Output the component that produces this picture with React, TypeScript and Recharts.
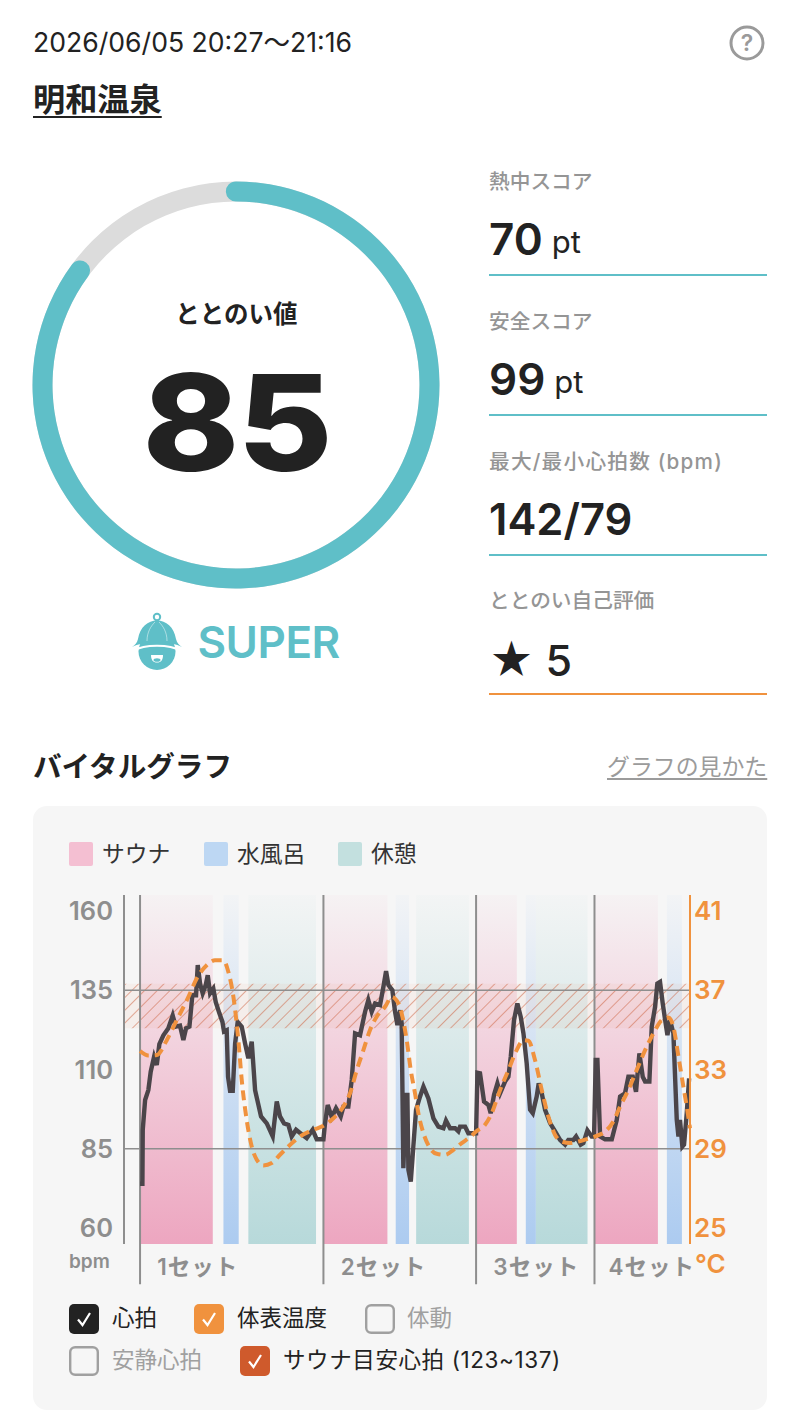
import { ComposedChart, Line, XAxis, YAxis, ReferenceArea, ReferenceLine, PieChart, Pie, Cell } from 'recharts'

const FONT = 'Inter, "Noto Sans CJK JP", sans-serif'
const TEAL = '#5fbfc8'
const ORANGE = '#f0923e'
const GRAY = '#8e8e8e'

// heart rate (minutes since 20:27 / bpm)
const hrMinutes = [
  0, 0.21, 0.24, 0.45, 0.74, 0.95, 1.25, 1.49, 1.72, 2.08, 2.52, 2.91, 3.18, 3.56, 3.86, 4.1, 4.4, 4.66, 4.99, 5.14,
  5.35, 5.58, 5.85, 6.03, 6.24, 6.53, 6.74, 7.07, 7.34, 7.48, 7.72, 7.84, 8.02, 8.26, 8.47, 8.7, 9.06, 9.36, 9.65, 9.95,
  10.25, 10.78, 11.29, 11.82, 12.18, 12.47, 12.83, 13.22, 13.51, 13.9, 14.26, 14.85, 15.38, 15.74, 16.34,
  16.48, 16.72, 17.08, 17.46, 17.88, 18.12, 18.56, 18.86, 19.16, 19.6, 20.05, 20.34, 20.64, 20.94, 21.38, 21.68, 21.92,
  22.13, 22.48, 22.72, 22.93, 23.17, 23.31, 23.46, 23.7, 23.82, 23.91, 24.12, 24.35, 24.59, 24.95, 25.25, 25.69, 26.14,
  26.58, 27.03, 27.26, 27.62, 28.07, 28.36, 28.51, 28.96, 29.25, 29.85,
  29.94, 30.06, 30.29, 30.65, 31.04, 31.24, 31.54, 31.84, 32.08, 32.52, 32.82, 33.03, 33.32, 33.62, 33.92, 34.16, 34.45,
  34.75, 34.99, 35.34, 35.52, 35.79, 36.09, 36.53, 36.98, 37.42, 37.87, 38.16, 38.61, 38.85, 39.26, 39.5, 39.86, 40.24,
  40.45, 40.6, 40.75, 40.99, 41.43, 42.03, 42.47, 42.77, 43.21, 43.51, 43.9, 44.19, 44.49, 44.79, 45, 45.38, 45.59, 45.89,
  46.09, 46.33, 46.57, 46.81, 46.99, 47.22, 47.52, 47.82, 47.97, 48.11, 48.32, 48.47, 48.71, 48.92,
]
const hrBpm = [
  74, 74, 91, 100.4, 103.5, 109.3, 114, 111.4, 118, 120.8, 123, 127, 123.5, 123.8, 119.3, 123, 123.5, 133.4, 133.4, 142.9,
  137, 134, 136.6, 139.7, 134, 135.5, 131.3, 127.7, 125, 122, 122.4, 107.7, 103.3, 103.3, 118.2, 125, 123.5, 118.2, 113.5, 118.8,
  103.5, 95.2, 93, 88.9, 99.9, 95.2, 93, 92.5, 88.9, 91, 90, 88.4, 91, 88, 88,
  93, 98.8, 95, 97.8, 95.2, 98.3, 98.3, 106.7, 121.4, 120.8, 128.2, 131.9, 128.2, 130.8, 130.3, 136, 141,
  136.6, 135, 128.2, 124, 128.7, 124.5, 78.9, 102, 102, 78.4, 74.7, 85.7, 97.3, 101.5, 104.6, 100.9, 94.6,
  92, 91.5, 93.9, 91.5, 91.5, 90.5, 92, 92, 89.9, 89.9,
  89.9, 109, 108.8, 99.9, 98.8, 96.2, 102, 105.6, 102.5, 106.2, 107.7, 114, 125.6, 130.8, 126.6, 121.4, 111.9,
  97.3, 96.2, 101.5, 105.6, 102.5, 97.3, 93.1, 90.5, 87.8, 86.3, 87.8, 87.8, 88.9, 86.3, 86.8, 90.8, 88.9,
  88.9, 113, 113, 88.9, 88, 88, 94.1, 101.5, 102.5, 107.7, 107.7, 103, 115.1, 107.7, 106.2, 106.2, 123.5, 129.8,
  137.1, 137.6, 130.8, 125, 120.8, 125.6, 121.4, 94.1, 88.9, 94.1, 85.7, 86.3, 96.2, 107.2,
]

// skin temperature (minutes / degrees)
const tempMinutes = [
  0, 0.74, 1.49, 2.38, 3.27, 4.31, 5.05, 5.94, 6.68, 7.42, 7.87, 8.32, 8.76, 9.06, 9.5, 9.95, 10.4, 10.99, 11.73, 12.47,
  13.37, 14.26, 15.44, 16.34, 17.23, 18.12, 18.71, 19.31, 19.9, 20.49, 21.08, 21.83, 22.42, 23.02, 23.31, 23.76, 24.12,
  24.5, 24.8, 25.25, 25.84, 26.43, 27.18, 27.92, 28.66, 29.4, 29.94, 30.74, 31.33, 32.08, 32.82, 33.56, 34.16, 34.6, 35.19,
  35.79, 36.38, 36.98, 37.57, 38.31, 39.06, 39.8, 40.69, 41.43, 42.17, 42.77, 43.51, 44.25, 45, 45.74, 46.48, 47.07, 47.52,
  47.97, 48.41, 48.71, 49,
]
const tempCelsius = [
  33.93, 33.7, 33.73, 34.48, 35.49, 36.66, 37.59, 38.26, 38.51, 38.51, 37.92, 36.66, 34.48, 32.47, 30.46, 29.12, 28.45, 28.16, 28.28, 28.7,
  29.2, 29.62, 29.96, 30.16, 30.54, 31.13, 31.8, 32.97, 33.98, 34.99, 35.66, 36.16, 36.66, 36.33, 35.83, 34.48, 32.97,
  31.8, 30.79, 29.79, 29.03, 28.75, 28.7, 28.95, 29.29, 29.59, 29.87, 30.21, 30.79, 31.97, 32.97, 33.98, 34.48, 34.45, 33.48,
  31.97, 30.63, 29.7, 29.37, 29.29, 29.37, 29.49, 29.65, 29.87, 30.38, 31.13, 31.97, 32.97, 33.98, 34.82, 35.49, 35.62, 35.15,
  33.65, 32.14, 31.13, 30.04,
]

const hrData = hrMinutes.map((t, i) => ({ t, bpm: hrBpm[i] }))
const tempData = tempMinutes.map((t, i) => ({ t, temp: tempCelsius[i] }))

// phases: [start, end] in minutes
const saunaPhases = [[0, 6.48], [16.34, 22.04], [29.94, 33.57], [40.49, 46.14]]
const waterPhases = [[7.43, 8.79], [22.78, 23.97], [34.37, 35.27], [46.94, 48.28]]
const restPhases = [[9.65, 15.68], [24.6, 29.3], [35.27, 39.87]]

const setStarts = [0, 16.34, 29.94, 40.49]
const setLabelAt = [5.14, 21.7, 35.3, 45.6]
const setLabels = ['1セット', '2セット', '3セット', '4セット']

const bpmTicks = [60, 85, 110, 135, 160]
const tempTicks = [25, 29, 33, 37, 41]
const targetRange = [123, 137]

// the round caps overhang the arc, so the gap is a bit under 15
const ringValues = [85, 13]

const scoreRows = [
  { label: '熱中スコア', value: '70', unit: 'pt', top: 161, line: TEAL, spacing: 0, valueTop: 51, weight: 600, size: 44 },
  { label: '安全スコア', value: '99', unit: 'pt', top: 301, line: TEAL, spacing: 0, valueTop: 51, weight: 600, size: 44 },
  { label: '最大/最小心拍数 (bpm)', value: '142/79', unit: '', top: 441, line: TEAL, spacing: 1.2, valueTop: 51, weight: 600, size: 43.5 },
  { label: 'ととのい自己評価', value: '★ 5', unit: '', top: 580, line: ORANGE, spacing: 0, valueTop: 53, weight: 500, size: 43 },
]

const phaseLegend = [
  { label: 'サウナ', color: '#f4bfd2', left: 69 },
  { label: '水風呂', color: '#bdd7f3', left: 204 },
  { label: '休憩', color: '#c3e0df', left: 338 },
]

const checks = [
  { label: '心拍', on: true, color: '#222222', left: 69, top: 1304, textLeft: 112, spacing: 0 },
  { label: '体表温度', on: true, color: ORANGE, left: 194, top: 1304, textLeft: 237, spacing: 0 },
  { label: '体動', on: false, color: '', left: 365, top: 1304, textLeft: 407, spacing: 0 },
  { label: '安静心拍', on: false, color: '', left: 69, top: 1346, textLeft: 112, spacing: 0 },
  { label: 'サウナ目安心拍 (123~137)', on: true, color: '#cf5a2c', left: 240, top: 1346, textLeft: 283, spacing: 0.6 },
]

const abs = (left: number, top: number, extra: React.CSSProperties = {}): React.CSSProperties => ({
  position: 'absolute',
  left,
  top,
  whiteSpace: 'nowrap',
  ...extra,
})

function HatIcon() {
  return (
    <svg style={abs(132, 612)} width={50} height={60} viewBox="0 0 50 60">
      <circle cx={25} cy={5} r={3.2} fill="none" stroke={TEAL} strokeWidth={2} />
      <circle cx={25} cy={39.5} r={18.5} fill={TEAL} />
      <path d="M2 38.5 C12 32 38 32 48 38.5" fill="none" stroke="#fff" strokeWidth={2} />
      <path d="M0 35 C3 33 5 31 6 27 C8 15 16 8.5 25 8.5 C34 8.5 42 15 44 27 C45 31 47 33 50 35 C40 29 10 29 0 35 Z" fill={TEAL} />
      <path d="M15 29 C15 20 19 14 23 10 M35 29 C35 20 31 14 27 10" fill="none" stroke="#fff" strokeWidth={0.8} opacity={0.6} />
      <path d="M19 43 H31 C31 48 29 50.5 25 50.5 C21 50.5 19 48 19 43 Z" fill="#fff" />
      <ellipse cx={25} cy={48} rx={3.5} ry={1.8} fill={TEAL} />
    </svg>
  )
}

function CheckBox({ on, color, left, top }: { on: boolean; color: string; left: number; top: number }) {
  return (
    <svg style={abs(left, top)} width={30} height={30} viewBox="0 0 30 30">
      {on ? (
        <>
          <rect x={0} y={0} width={30} height={30} rx={5} fill={color} />
          <path d="M9 15.5 L13.5 21 L21 9" fill="none" stroke="#fff" strokeWidth={2.2} />
        </>
      ) : (
        <rect x={1.2} y={1.2} width={27.6} height={27.6} rx={5} fill="none" stroke="#a0a0a0" strokeWidth={2.4} />
      )}
    </svg>
  )
}

function VitalChart() {
  return (
    <div style={abs(33, 885)}>
      <ComposedChart width={734} height={405} margin={{ top: 10, right: 0, bottom: 0, left: 0 }} data={hrData}>
        <defs>
          <linearGradient id="saunaFill" x1="0" y1="0" x2="0" y2="1">
            <stop offset="0%" stopColor="#eda6c0" stopOpacity={0.05} />
            <stop offset="100%" stopColor="#eda6c0" stopOpacity={1} />
          </linearGradient>
          <linearGradient id="waterFill" x1="0" y1="0" x2="0" y2="1">
            <stop offset="0%" stopColor="#accbf0" stopOpacity={0.05} />
            <stop offset="100%" stopColor="#accbf0" stopOpacity={1} />
          </linearGradient>
          <linearGradient id="restFill" x1="0" y1="0" x2="0" y2="1">
            <stop offset="0%" stopColor="#b7d9da" stopOpacity={0.05} />
            <stop offset="100%" stopColor="#b7d9da" stopOpacity={1} />
          </linearGradient>
          <pattern id="hatch" width={9} height={9} patternUnits="userSpaceOnUse" patternTransform="rotate(45)">
            <rect width={9} height={9} fill="#e08a63" fillOpacity={0.08} />
            <line x1={0} y1={0} x2={0} y2={9} stroke="#cf6a48" strokeOpacity={0.55} strokeWidth={2} />
          </pattern>
        </defs>
        <XAxis
          dataKey="t"
          type="number"
          domain={[-1.43, 49]}
          ticks={setLabelAt}
          interval={0}
          height={46}
          axisLine={false}
          tickLine={false}
          tickSize={0}
          tickMargin={15}
          tickFormatter={(v: number) => setLabels[setLabelAt.indexOf(v)]}
          tick={{ fill: GRAY, fontSize: 22.5, fontWeight: 600, fontFamily: FONT, letterSpacing: 1 }}
        />
        <YAxis
          yAxisId="bpm"
          width={91}
          domain={[55, 165]}
          ticks={bpmTicks}
          interval={0}
          tickLine={false}
          tickSize={0}
          tickMargin={11}
          axisLine={{ stroke: GRAY, strokeWidth: 2 }}
          tick={{ fill: GRAY, fontSize: 25.5, fontWeight: 600, fontFamily: FONT }}
        />
        <YAxis
          yAxisId="temp"
          orientation="right"
          width={77}
          domain={[24.2, 41.8]}
          ticks={tempTicks}
          interval={0}
          tickLine={false}
          tickSize={0}
          tickMargin={4}
          axisLine={{ stroke: ORANGE, strokeWidth: 2 }}
          tick={{ fill: ORANGE, fontSize: 26, fontWeight: 600, fontFamily: FONT }}
        />
        {saunaPhases.map(([a, b]) => (
          <ReferenceArea key={a} yAxisId="bpm" x1={a} x2={b} y1={55} y2={165} fill="url(#saunaFill)" fillOpacity={1} />
        ))}
        {waterPhases.map(([a, b]) => (
          <ReferenceArea key={a} yAxisId="bpm" x1={a} x2={b} y1={55} y2={165} fill="url(#waterFill)" fillOpacity={1} />
        ))}
        {restPhases.map(([a, b]) => (
          <ReferenceArea key={a} yAxisId="bpm" x1={a} x2={b} y1={55} y2={165} fill="url(#restFill)" fillOpacity={1} />
        ))}
        <ReferenceArea yAxisId="bpm" y1={targetRange[0]} y2={targetRange[1]} fill="url(#hatch)" fillOpacity={1} />
        <ReferenceLine yAxisId="bpm" y={135} stroke={GRAY} strokeWidth={1.5} />
        <ReferenceLine yAxisId="bpm" y={85} stroke={GRAY} strokeWidth={1.5} />
        {setStarts.map((s) => (
          <ReferenceLine
            key={s}
            yAxisId="bpm"
            ifOverflow="visible"
            segment={[{ x: s, y: 42.3 }, { x: s, y: 165 }]}
            stroke={GRAY}
            strokeWidth={2}
          />
        ))}
        <Line
          yAxisId="bpm"
          data={hrData}
          dataKey="bpm"
          type="linear"
          stroke="#4b454a"
          strokeWidth={4.4}
          dot={false}
          isAnimationActive={false}
        />
        <Line
          yAxisId="temp"
          data={tempData}
          dataKey="temp"
          type="monotone"
          stroke={ORANGE}
          strokeWidth={4}
          strokeDasharray="10 6"
          dot={false}
          isAnimationActive={false}
        />
      </ComposedChart>
    </div>
  )
}

function ScoreRing() {
  return (
    <div style={abs(26, 175)}>
      <PieChart width={420} height={420} margin={{ top: 0, right: 0, bottom: 0, left: 0 }}>
        <Pie
          data={[{ v: 1 }]}
          dataKey="v"
          cx={210}
          cy={210}
          innerRadius={183.5}
          outerRadius={203.5}
          startAngle={90}
          endAngle={-270}
          fill="#dcdcdc"
          stroke="none"
          isAnimationActive={false}
        />
        <Pie
          data={ringValues.map((v) => ({ v }))}
          dataKey="v"
          cx={210}
          cy={210}
          innerRadius={183.5}
          outerRadius={203.5}
          startAngle={93}
          endAngle={-267}
          cornerRadius={10}
          stroke="none"
          isAnimationActive={false}
        >
          <Cell fill={TEAL} />
          <Cell fill="transparent" />
        </Pie>
      </PieChart>
    </div>
  )
}

export default function App() {
  return (
    <div style={{ position: 'absolute', left: 0, top: 0, width: 800, height: 1424, background: '#fff', overflow: 'hidden', fontFamily: FONT, color: '#222' }}>
      <div style={abs(33, 26, { fontSize: 26.6, lineHeight: '32px' })}>2026/06/05 20:27～21:16</div>
      <div style={abs(33, 80, { fontSize: 32.2, lineHeight: '40px', fontWeight: 700, textDecoration: 'underline', textDecorationThickness: 2, textUnderlineOffset: 5 })}>明和温泉</div>
      <svg style={abs(729, 25)} width={36} height={36} viewBox="0 0 36 36">
        <circle cx={18} cy={18} r={16} fill="none" stroke="#9a9a9a" strokeWidth={3} />
        <text x={18} y={26} textAnchor="middle" fontSize={23} fontWeight={600} fill="#9a9a9a" fontFamily={FONT}>?</text>
      </svg>

      <ScoreRing />
      <div style={abs(33, 298, { width: 407, textAlign: 'center', fontSize: 24.5, lineHeight: '32px', fontWeight: 700 })}>ととのい値</div>
      <div style={abs(33, 337, { width: 407, textAlign: 'center', fontSize: 134, lineHeight: '170px', fontWeight: 800, letterSpacing: -2, transform: 'scaleX(1.09)' })}>85</div>
      <HatIcon />
      <div style={abs(197.5, 614, { fontSize: 44, lineHeight: '56px', fontWeight: 600, color: TEAL, letterSpacing: -0.5 })}>SUPER</div>

      {scoreRows.map((r) => (
        <div key={r.label}>
          <div style={abs(489, r.top, { fontSize: 20.7, lineHeight: '42px', fontWeight: 500, color: '#959595', letterSpacing: r.spacing })}>{r.label}</div>
          <div style={abs(489, r.top + r.valueTop, { fontSize: r.size, lineHeight: '54px', fontWeight: r.weight })}>
            {r.value}
            {r.unit && <span style={{ fontSize: 31, fontWeight: 400, marginLeft: 9, position: 'relative', top: -2 }}>{r.unit}</span>}
          </div>
          <div style={abs(489, r.top + 113, { width: 278, height: 2, background: r.line })} />
        </div>
      ))}

      <div style={abs(33, 749, { fontSize: 28.6, lineHeight: '36px', fontWeight: 700 })}>バイタルグラフ</div>
      <div style={abs(607, 752, { fontSize: 22.9, lineHeight: '30px', color: '#9b9b9b', textDecoration: 'underline', textUnderlineOffset: 3 })}>グラフの見かた</div>

      <div style={abs(33, 806, { width: 734, height: 604, background: '#f6f6f6', borderRadius: 14 })} />
      {phaseLegend.map((p) => (
        <div key={p.label}>
          <div style={abs(p.left, 842, { width: 24, height: 24, background: p.color, borderRadius: 2 })} />
          <div style={abs(p.left + 33, 838, { fontSize: 22.8, lineHeight: '32px', color: '#333' })}>{p.label}</div>
        </div>
      ))}

      <VitalChart />
      <div style={abs(69, 1251, { fontSize: 19, lineHeight: '22px', fontWeight: 600, color: GRAY })}>bpm</div>
      <div style={abs(695, 1249, { fontSize: 26, lineHeight: '30px', fontWeight: 600, color: ORANGE })}>°C</div>

      {checks.map((c) => (
        <div key={c.label}>
          <CheckBox on={c.on} color={c.color} left={c.left} top={c.top} />
          <div style={abs(c.textLeft, c.top - 2, { fontSize: 22.5, lineHeight: '32px', color: c.on ? '#222' : '#a0a0a0', letterSpacing: c.spacing })}>{c.label}</div>
        </div>
      ))}
    </div>
  )
}
